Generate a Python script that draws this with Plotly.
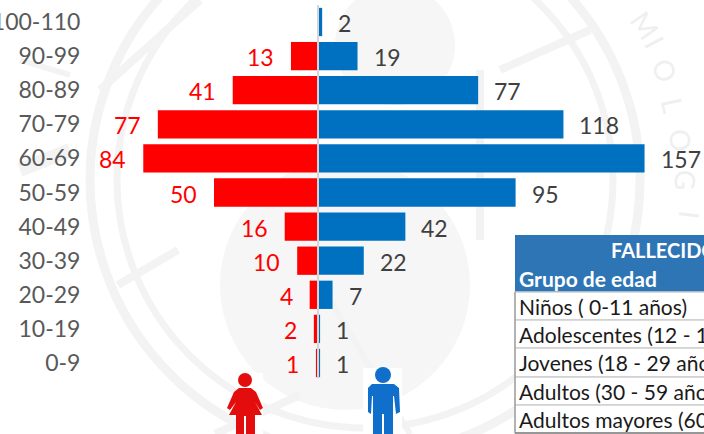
import plotly.graph_objects as go

age_groups = ["0-9", "10-19", "20-29", "30-39", "40-49", "50-59", "60-69", "70-79", "80-89", "90-99", "100-110"]
female = [1, 2, 4, 10, 16, 50, 84, 77, 41, 13, None]
male = [1, 1, 7, 22, 42, 95, 157, 118, 77, 19, 2]
table_title = "FALLECIDOS"
table_header = "Grupo de edad"
table_rows = ["Niños ( 0-11 años)", "Adolescentes (12 - 17 años)", "Jovenes (18 - 29 años)",
              "Adultos (30 - 59 años)", "Adultos mayores (60 a más)"]
watermark_letters = ["M", "I", "O", "L", "O", "G", "I"]

W, H, LEFT = 704, 434, 90
FONT = "Lato, 'Open Sans', sans-serif"
RED, BLUE = "#ff0000", "#0070c0"
WM = "#f3f3f4"


def X(p):
    return (p - LEFT) / (W - LEFT)


def Y(p):
    return 1 - p / H


def rect(x0, y0, x1, y1, fill=None, line=None, lw=1, layer="below"):
    return dict(type="rect", xref="paper", yref="paper", x0=X(x0), x1=X(x1), y0=Y(y0), y1=Y(y1),
                fillcolor=fill or "rgba(0,0,0,0)", line=dict(color=line or "rgba(0,0,0,0)", width=lw if line else 0),
                layer=layer)


def circle(cx, cy, r, fill=None, line=None, lw=1, layer="below"):
    return dict(type="circle", xref="paper", yref="paper", x0=X(cx - r), x1=X(cx + r), y0=Y(cy + r), y1=Y(cy - r),
                fillcolor=fill or "rgba(0,0,0,0)", line=dict(color=line or "rgba(0,0,0,0)", width=lw if line else 0),
                layer=layer)


def seg(x0, y0, x1, y1, color=WM, lw=8, layer="below"):
    return dict(type="line", xref="paper", yref="paper", x0=X(x0), x1=X(x1), y0=Y(y0), y1=Y(y1),
                line=dict(color=color, width=lw), layer=layer)


def poly(pts, fill, layer="above"):
    d = "M" + " L".join(f"{X(a):.5f},{Y(b):.5f}" for a, b in pts) + " Z"
    return dict(type="path", path=d, xref="paper", yref="paper", fillcolor=fill, line=dict(width=0), layer=layer)


shapes = [
    # faint seal behind the chart
    circle(365, 180, 275, line=WM, lw=9),
    circle(365, 180, 248, line=WM, lw=7),
    circle(345, 285, 125, fill="#f6f6f7"),
    circle(395, 45, 60, fill="#f6f6f7"),
    seg(118, 285, 178, 250), seg(500, 70, 590, 30), seg(480, 70, 480, 240),
    seg(200, 0, 100, 90), seg(70, 150, 20, 170, lw=14), seg(20, 60, 70, 75, lw=6),
    seg(215, 434, 300, 395), seg(410, 434, 330, 300, lw=6),
]

# axis line
shapes.append(dict(type="line", xref="x", yref="y", x0=0, x1=0, y0=-0.45, y1=10.5,
                   line=dict(color="#d6d6d6", width=2), layer="above"))

# table
shapes.append(rect(515, 235, 710, 292, fill="#2e75b6", layer="above"))
for top, bottom in zip([292, 320, 348, 377, 405], [320, 348, 377, 405, 433]):
    shapes.append(rect(515, top, 710, bottom, fill="#ffffff", line="#cfcfcf", lw=1.5, layer="above"))
shapes.append(seg(515, 433, 704, 433, color="#555555", lw=1, layer="above"))
shapes.append(seg(515, 292, 515, 433, color="#8a8a8a", lw=1, layer="above"))

# female icon
shapes.append(rect(237, 373, 263, 434, fill="#ffffff", layer="above"))
shapes.append(circle(245, 380, 7, fill="#e40d0d", layer="above"))
shapes.append(poly([(239, 388), (251, 388), (256, 392), (263, 408), (260, 410), (255, 402), (262, 415),
                    (255, 415), (255, 434), (246, 434), (246, 416), (244, 416), (244, 434), (236, 434),
                    (236, 415), (229, 415), (236, 402), (230, 410), (227, 408), (234, 392)], "#e40d0d"))
# male icon
shapes.append(rect(363, 368, 402, 434, fill="#ffffff", layer="above"))
shapes.append(circle(383, 375, 8, fill="#0f6fcb", layer="above"))
shapes.append(poly([(372, 384), (394, 384), (399, 388), (400, 412), (396, 414), (394, 396), (393, 396),
                    (393, 434), (384, 434), (384, 414), (382, 414), (382, 434), (373, 434), (373, 396),
                    (372, 396), (371, 414), (368, 412), (368, 388)], "#0f6fcb"))

ann = []
# watermark lettering goes first so that it stays under the value labels
for ch, (px, py, ang) in zip(watermark_letters, [(645, 25, 55), (655, 42, 62), (665, 70, 70), (673, 105, 78),
                                                  (681, 140, 85), (686, 180, 92), (690, 215, 97)]):
    ann.append(dict(x=X(px), y=Y(py), xref="paper", yref="paper", text=ch, showarrow=False, textangle=ang,
                    xanchor="center", yanchor="middle", font=dict(family=FONT, size=28, color="#efeff0")))

for name, f, m in zip(age_groups, female, male):
    if f is not None:
        ann.append(dict(x=-f, y=name, xref="x", yref="y", text=str(f), showarrow=False, xanchor="right",
                        yanchor="middle", xshift=-15, yshift=-1, font=dict(family=FONT, size=23, color=RED)))
    ann.append(dict(x=m, y=name, xref="x", yref="y", text=str(m), showarrow=False, xanchor="left",
                    yanchor="middle", xshift=14, yshift=-1, font=dict(family=FONT, size=23, color="#404040")))

ann.append(dict(x=X(609), y=Y(250), xref="paper", yref="paper", text=f"<b>{table_title}</b>", showarrow=False,
                xanchor="left", yanchor="middle", font=dict(family=FONT, size=20, color="#ffffff")))
ann.append(dict(x=X(517), y=Y(278), xref="paper", yref="paper", text=f"<b>{table_header}</b>", showarrow=False,
                xanchor="left", yanchor="middle", font=dict(family=FONT, size=21, color="#ffffff")))
for label, cy in zip(table_rows, [306, 334, 362, 391, 419]):
    ann.append(dict(x=X(517), y=Y(cy), xref="paper", yref="paper", text=label, showarrow=False,
                    xanchor="left", yanchor="middle", font=dict(family=FONT, size=21, color="#1a1a1a")))

fig = go.Figure()
fig.add_bar(y=age_groups, x=[None if v is None else -v for v in female], orientation="h",
            marker=dict(color=RED, line=dict(width=0)), width=0.83, name="Mujeres")
fig.add_bar(y=age_groups, x=male, orientation="h",
            marker=dict(color=BLUE, line=dict(width=0)), width=0.83, name="Hombres")

fig.update_layout(
    width=W, height=H, margin=dict(l=LEFT, r=0, t=0, b=0), paper_bgcolor="#ffffff", plot_bgcolor="rgba(0,0,0,0)",
    barmode="overlay", showlegend=False, shapes=shapes, annotations=ann,
    xaxis=dict(range=[-(318 - LEFT) / 2.08, (W - 318) / 2.08], visible=False, fixedrange=True, automargin=False),
    yaxis=dict(type="category", categoryorder="array", categoryarray=age_groups, automargin=False,
               range=[-(H - 363) / 34.1, 10 + 22 / 34.1], showgrid=False, zeroline=False, showline=False,
               ticks="outside", ticklen=4, tickcolor="rgba(0,0,0,0)",
               tickfont=dict(family=FONT, size=23, color="#595959"), fixedrange=True),
)
fig.write_html("out.html", config={"displayModeBar": False},
               post_script="document.body.style.margin='0';document.body.style.overflow='hidden';")
